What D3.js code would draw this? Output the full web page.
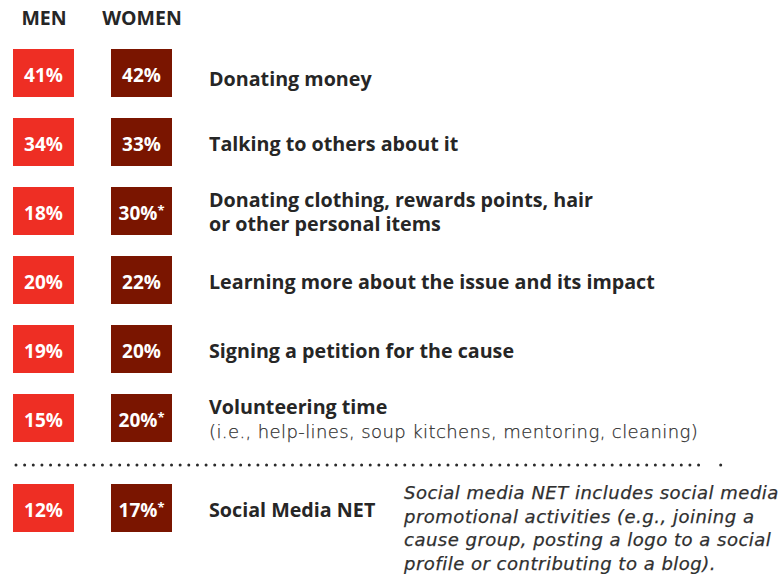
<!DOCTYPE html>
<html>
<head>
<meta charset="utf-8">
<script src="https://cdn.jsdelivr.net/npm/d3@7"></script>
<style>
  body { margin: 0; background: #fff; }
  svg { display: block; }
  text { font-family: "Open Sans", sans-serif; }
  .light { font-family: "DejaVu Sans", sans-serif; font-weight: 200; fill: #2f2f2f; stroke: #2f2f2f; stroke-width: 0.25; }
</style>
</head>
<body>
<svg id="chart" width="784" height="574"></svg>
<script>
// Share of respondents taking each action, by gender
const activities = [
  ["Donating money"],
  ["Talking to others about it"],
  ["Donating clothing, rewards points, hair", "or other personal items"],
  ["Learning more about the issue and its impact"],
  ["Signing a petition for the cause"],
  ["Volunteering time"],
  ["Social Media NET"]
];
const subNotes = [null, null, null, null, null,
  "(i.e., help-lines, soup kitchens, mentoring, cleaning)", null];
const menValues = [41, 34, 18, 20, 19, 15, 12];
const womenValues = [42, 33, 30, 22, 20, 20, 17];
const womenSignificant = [false, false, true, false, false, true, true];
const groups = ["MEN", "WOMEN"];
const footnote = [
  "Social media NET includes social media",
  "promotional activities (e.g., joining a",
  "cause group, posting a logo to a social",
  "profile or contributing to a blog)."
];

const colors = { MEN: "#ee2e24", WOMEN: "#7a1500" };
const ink = "#262626";

const svg = d3.select("#chart");

// Column positions for the two gender tiles
const x = d3.scaleOrdinal().domain(groups).range([13, 111]);
const tileW = 61, tileH = 48;
const labelX = 209;
const lineGap = 24;

// Row positions: first six rows evenly spaced, the NET row sits below the divider
const rowY = d3.scaleLinear().domain([0, 1]).range([49, 118]);
const rowTop = i => i < 6 ? rowY(i) : 484;

const rows = activities.map((label, i) => ({
  i, label, note: subNotes[i], men: menValues[i], women: womenValues[i],
  sig: womenSignificant[i], top: rowTop(i)
}));

// Column headers
svg.selectAll("text.head").data(groups).join("text")
  .attr("class", "head")
  .attr("x", d => x(d) + tileW / 2 + 0.5)
  .attr("y", 25)
  .attr("text-anchor", "middle")
  .attr("font-size", 19.5).attr("font-weight", 700)
  .attr("fill", ink)
  .text(d => d);

const row = svg.selectAll("g.row").data(rows).join("g")
  .attr("class", "row")
  .attr("transform", d => `translate(0,${d.top})`);

// Value tiles
groups.forEach(g => {
  row.append("rect")
    .attr("x", x(g)).attr("y", 0)
    .attr("width", tileW).attr("height", tileH)
    .attr("fill", colors[g]);
  const t = row.append("text")
    .attr("x", x(g) + tileW / 2)
    .attr("y", 33)
    .attr("text-anchor", "middle")
    .attr("font-size", 19).attr("font-weight", 700)
    .attr("fill", "#fff");
  t.append("tspan").text(d => (g === "MEN" ? d.men : d.women) + "%");
  if (g === "WOMEN") {
    t.append("tspan").attr("font-size", 13).attr("dy", -5)
      .text(d => d.sig ? "*" : "");
  }
});

// Activity labels: bold title lines plus an optional lighter note line, in one text block
row.each(function(d) {
  const lines = d.label.length + (d.note ? 1 : 0);
  const first = lines === 1 ? (d.i === 0 ? 37 : 33) : 20;
  const t = d3.select(this).append("text")
    .attr("x", labelX).attr("y", first)
    .attr("font-size", 19.7).attr("font-weight", 700)
    .attr("fill", ink);
  d.label.forEach((line, j) => {
    t.append("tspan")
      .attr("x", labelX).attr("dy", j === 0 ? 0 : lineGap)
      .text(line);
  });
  if (d.note) {
    t.append("tspan")
      .attr("class", "light")
      .attr("x", labelX).attr("dy", lineGap - 0.5)
      .attr("font-size", 18)
      .attr("letter-spacing", 0.4)
      .text(d.note);
  }
});

// Dotted divider
svg.append("line")
  .attr("x1", 16).attr("x2", 707.2)
  .attr("y1", 465).attr("y2", 465)
  .attr("stroke", "#2a2a2a")
  .attr("stroke-width", 3)
  .attr("stroke-linecap", "round")
  .attr("stroke-dasharray", "0 8.64");
svg.append("circle")
  .attr("cx", 720.7).attr("cy", 465).attr("r", 1.5)
  .attr("fill", "#2a2a2a");

// Footnote
svg.append("g").selectAll("text").data(footnote).join("text")
  .attr("class", "light")
  .attr("x", 404)
  .attr("y", (d, i) => 499 + i * 23.5)
  .attr("font-size", 18).attr("font-style", "italic")
  .attr("letter-spacing", 0.5)
  .text(d => d);
</script>
</body>
</html>
